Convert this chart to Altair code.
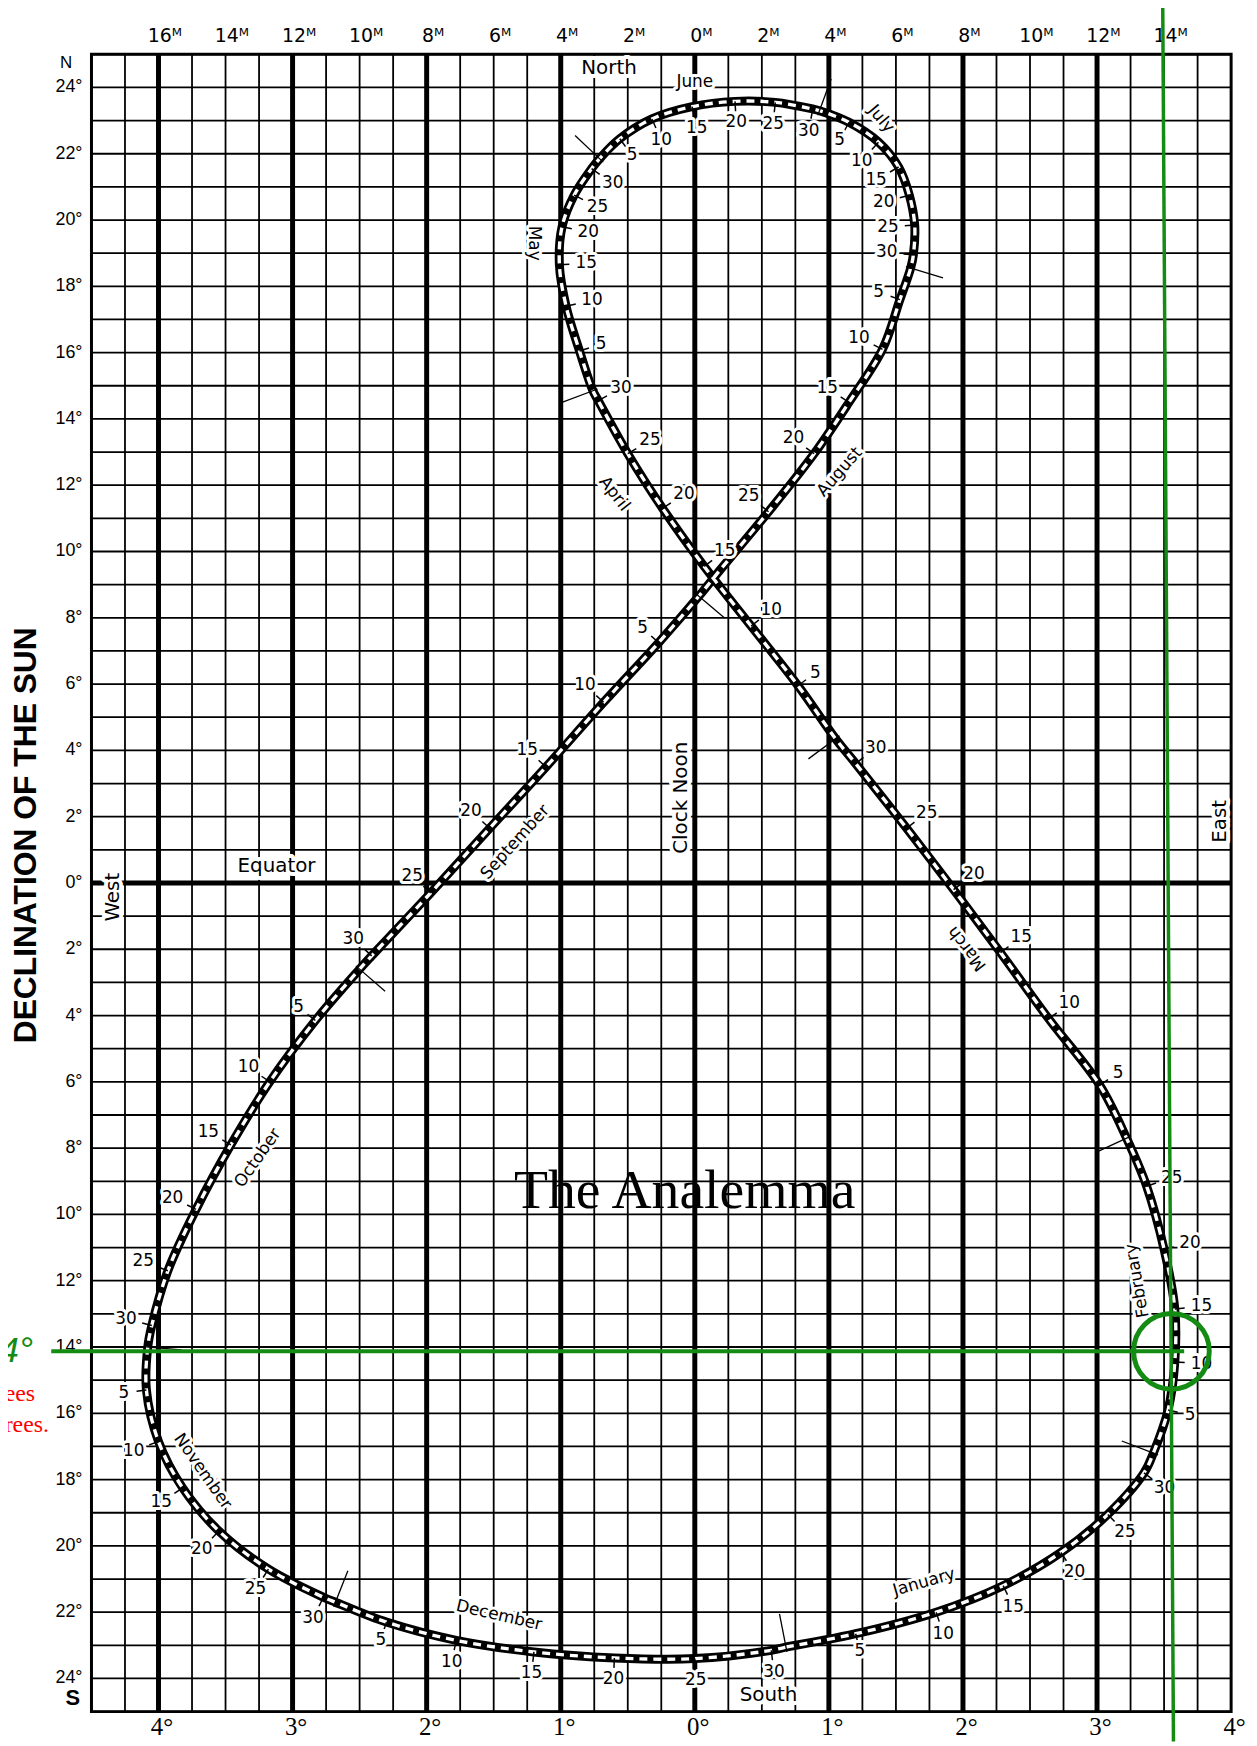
import altair as alt
import numpy as np
import pandas as pd

# ---------------- frame ----------------
W, H = 1147, 1668
XMIN, XMAX = -4.5, 4.0
YMIN, YMAX = -25.0, 25.0
KX = W / (XMAX - XMIN)
KY = H / (YMAX - YMIN)

# ---------------- analemma points ----------------
pt_month = [1, 1, 1, 1, 1, 1, 1,
            2, 2, 2, 2, 2, 2,
            3, 3, 3, 3, 3, 3, 3,
            4, 4, 4, 4, 4, 4, 4,
            5, 5, 5, 5, 5, 5, 5,
            6, 6, 6, 6, 6, 6, 6,
            7, 7, 7, 7, 7, 7, 7,
            8, 8, 8, 8, 8, 8, 8,
            9, 9, 9, 9, 9, 9, 9,
            10, 10, 10, 10, 10, 10, 10,
            11, 11, 11, 11, 11, 11, 11,
            12, 12, 12, 12, 12, 12, 12]
pt_day = [1, 5, 10, 15, 20, 25, 30,
          1, 5, 10, 15, 20, 25,
          1, 5, 10, 15, 20, 25, 30,
          1, 5, 10, 15, 20, 25, 30,
          1, 5, 10, 15, 20, 25, 30,
          1, 5, 10, 15, 20, 25, 30,
          1, 5, 10, 15, 20, 25, 30,
          1, 5, 10, 15, 20, 25, 30,
          1, 5, 10, 15, 20, 25, 30,
          1, 5, 10, 15, 20, 25, 30,
          1, 5, 10, 15, 20, 25, 30,
          1, 5, 10, 15, 20, 25, 30]
pt_x = [0.68, 1.20, 1.80, 2.30, 2.73, 3.08, 3.35,
        3.42, 3.53, 3.58, 3.58, 3.50, 3.37,
        3.22, 3.02, 2.64, 2.28, 1.93, 1.58, 1.20,
        1.05, 0.77, 0.42, 0.07, -0.24, -0.50, -0.72,
        -0.76, -0.86, -0.96, -1.01, -0.99, -0.90, -0.77,
        -0.71, -0.56, -0.32, -0.02, 0.30, 0.60, 0.88,
        0.93, 1.15, 1.37, 1.52, 1.60, 1.64, 1.63,
        1.61, 1.53, 1.40, 1.15, 0.89, 0.55, 0.18,
        0.03, -0.27, -0.68, -1.11, -1.53, -1.97, -2.41,
        -2.50, -2.83, -3.17, -3.46, -3.72, -3.93, -4.05,
        -4.08, -4.09, -4.00, -3.82, -3.55, -3.18, -2.77,
        -2.68, -2.30, -1.78, -1.20, -0.60, 0.00, 0.57]
pt_dec = [-23.05, -22.65, -22.00, -21.20, -20.20, -19.05, -17.80,
          -17.20, -15.90, -14.45, -12.85, -11.05, -9.15,
          -7.70, -6.10, -4.10, -2.10, -0.20, 1.65, 3.60,
          4.35, 5.95, 7.75, 9.55, 11.30, 12.95, 14.55,
          14.85, 16.05, 17.40, 18.65, 19.80, 20.75, 21.55,
          21.85, 22.45, 23.05, 23.42, 23.58, 23.55, 23.35,
          23.30, 22.95, 22.35, 21.60, 20.75, 19.85, 18.95,
          18.55, 17.60, 16.10, 14.50, 12.95, 11.20, 9.40,
          8.65, 7.25, 5.45, 3.50, 1.65, -0.30, -2.20,
          -2.60, -4.15, -6.00, -7.90, -9.85, -11.70, -13.35,
          -14.00, -15.30, -16.85, -18.25, -19.55, -20.70, -21.55,
          -21.70, -22.30, -22.85, -23.20, -23.38, -23.40, -23.15]

# ---------------- month names (position, angle) ----------------
mon_text = ["January", "February", "March", "April", "May", "June",
            "July", "August", "September", "October", "November", "December"]
mon_x = [1.71, 3.30, 2.03, -0.60, -1.20, 0.00, 1.39, 1.08, -1.34, -3.26, -3.67, -1.46]
mon_dec = [-21.1, -12.0, -1.98, 11.74, 19.3, 24.16, 23.05, 12.4, 1.23, -8.3, -17.75, -22.1]
mon_angle = [344, 260, 232, 52, 90, 0, 50, 311, 312, 305, 55, 13]

# ---------------- other annotations ----------------
ann_text = ["North", "South", "Equator", "West", "East", "Clock Noon"]
ann_x = [-0.64, 0.55, -3.12, -4.34, 3.92, -0.10]
ann_dec = [24.6, -24.5, 0.5, -0.43, 1.86, 2.57]
ann_angle = [0, 0, 0, 270, 270, 270]

# ---------------- grid and tick labels ----------------
grid_minor_x = list(np.arange(XMIN, XMAX + 1e-9, 0.25))
grid_major_x = [-4, -3, -2, -1, 0, 1, 2, 3]
grid_minor_y = list(range(-25, 26))
grid_major_y = [0]
bottom_ticks = [-4, -3, -2, -1, 0, 1, 2, 3, 4]
top_ticks = list(np.arange(-4.0, 3.51, 0.5))
left_ticks = list(range(-24, 25, 2))
y_title = "DECLINATION OF THE SUN"

# green overlay
green_vx = [3.49, 3.57]
green_vdec = [26.5, -25.9]
green_hx = [-4.80, 3.65]
green_hdec = -14.13
green_circle = (3.555, -14.13)

xs = alt.Scale(domain=[XMIN, XMAX], nice=False, zero=False)
ys = alt.Scale(domain=[YMIN, YMAX], nice=False, zero=False)
NOAX = None

# ---------------- derived geometry ----------------
px = np.array(pt_x) * KX
py = -np.array(pt_dec) * KY
tx = np.roll(px, -1) - np.roll(px, 1)
ty = np.roll(py, -1) - np.roll(py, 1)
L = np.hypot(tx, ty)
tx, ty = tx / L, ty / L
rnx, rny = -ty, tx  # right-hand normal in screen coordinates

pts = pd.DataFrame({"m": pt_month, "d": pt_day, "x": pt_x, "y": pt_dec,
                    "nx": rnx, "ny": rny})
curve = pd.concat([pts, pts.iloc[[0]]], ignore_index=True)
curve["i"] = np.arange(len(curve))

# date labels
lab = pts[(pts["d"] >= 5) & ~((pts["m"] == 8) & (pts["d"] == 30))].copy()
dist = 21 + 6 * lab["nx"].abs() - np.where(lab["d"] == 5, 4, 0)
lab["lx"] = lab["x"] + lab["nx"] * dist / KX
lab["ly"] = lab["y"] - lab["ny"] * dist / KY
lab["t"] = lab["d"].astype(str)
lab["tx2"] = lab["x"] + lab["nx"] * 10 / KX
lab["ty2"] = lab["y"] - lab["ny"] * 10 / KY
# month ticks
mt = pts[pts["d"] == 1].copy()
mt["x1"] = mt["x"] + mt["nx"] * 5 / KX
mt["y1"] = mt["y"] - mt["ny"] * 5 / KY
mt["x2"] = mt["x"] - mt["nx"] * 34 / KX
mt["y2"] = mt["y"] + mt["ny"] * 34 / KY

# ---------------- layers ----------------
bottom_axis = alt.Axis(values=bottom_ticks, labelExpr="abs(datum.value) + '°'",
                       labelFont="Liberation Serif", labelFontSize=25, labelPadding=3,
                       labelOffset=3, ticks=False, domain=False, grid=False,
                       labelFlush=False, labelOverlap=False, title=None, orient="bottom",
                       labelColor="black")
top_axis = alt.Axis(values=top_ticks, labelExpr="abs(round(datum.value*4)) + 'ᴹ'",
                    labelFont="DejaVu Sans", labelFontSize=19, labelPadding=9,
                    labelOffset=6, ticks=False, domain=False, grid=False,
                    labelFlush=False, labelOverlap=False, title=None, orient="top",
                    labelColor="black")

vminor = alt.Chart(pd.DataFrame({"x": grid_minor_x, "y0": YMIN, "y1": YMAX})).mark_rule(
    color="black", strokeWidth=1.8).encode(
    x=alt.X("x:Q", scale=xs, axis=bottom_axis),
    y=alt.Y("y0:Q", scale=ys, axis=NOAX), y2="y1:Q")

vmajor = alt.Chart(pd.DataFrame({"x": grid_major_x, "y0": YMIN, "y1": YMAX})).mark_rule(
    color="black", strokeWidth=5).encode(
    x=alt.X("x:Q", scale=xs, axis=top_axis),
    y=alt.Y("y0:Q", scale=ys, axis=NOAX), y2="y1:Q")

hminor = alt.Chart(pd.DataFrame({"y": grid_minor_y, "x0": XMIN, "x1": XMAX})).mark_rule(
    color="black", strokeWidth=1.8).encode(
    y=alt.Y("y:Q", scale=ys, axis=NOAX),
    x=alt.X("x0:Q", scale=xs, axis=NOAX), x2="x1:Q")

hmajor = alt.Chart(pd.DataFrame({"y": grid_major_y, "x0": XMIN, "x1": XMAX})).mark_rule(
    color="black", strokeWidth=5).encode(
    y=alt.Y("y:Q", scale=ys, axis=NOAX),
    x=alt.X("x0:Q", scale=xs, axis=NOAX), x2="x1:Q")


def texts(df, size, font="DejaVu Sans", halo=5, color="black", angle=False,
          align="center", baseline="middle", weight="normal", style="normal",
          with_halo=True, dx=0):
    enc = dict(x=alt.X("x:Q", scale=xs, axis=NOAX),
               y=alt.Y("y:Q", scale=ys, axis=NOAX),
               text=alt.Text("t:N"))
    if angle:
        enc["angle"] = alt.Angle("a:Q", scale=None)
    common = dict(fontSize=size, font=font, align=align, baseline=baseline,
                  fontWeight=weight, fontStyle=style, dx=dx)
    layers = []
    if with_halo:
        layers.append(alt.Chart(df).mark_text(color="white", stroke="white",
                                              strokeWidth=halo, strokeJoin="round",
                                              **common).encode(**enc))
    layers.append(alt.Chart(df).mark_text(color=color, **common).encode(**enc))
    return layers


ann_df = pd.DataFrame({"x": ann_x, "y": ann_dec, "t": ann_text, "a": ann_angle})
mon_df = pd.DataFrame({"x": mon_x, "y": mon_dec, "t": mon_text, "a": mon_angle})
lab_df = pd.DataFrame({"x": lab["lx"], "y": lab["ly"], "t": lab["t"]})
left_df = pd.DataFrame({"x": XMIN, "y": left_ticks,
                        "t": [f"{abs(v)}°" for v in left_ticks]})
ytitle_df = pd.DataFrame({"x": [XMIN - 66 / KX], "y": [YMAX - 786 / KY],
                          "t": [y_title], "a": [270]})

curve_black = alt.Chart(curve).mark_line(color="black", strokeWidth=9,
                                         interpolate="catmull-rom").encode(
    x=alt.X("x:Q", scale=xs, axis=NOAX), y=alt.Y("y:Q", scale=ys, axis=NOAX),
    order="i:Q")
curve_white = alt.Chart(curve).mark_line(color="white", strokeWidth=3.4, strokeDash=[8, 6],
                                         interpolate="catmull-rom").encode(
    x=alt.X("x:Q", scale=xs, axis=NOAX), y=alt.Y("y:Q", scale=ys, axis=NOAX),
    order="i:Q")

date_ticks = alt.Chart(lab).mark_rule(color="black", strokeWidth=1.5).encode(
    x=alt.X("x:Q", scale=xs, axis=NOAX), y=alt.Y("y:Q", scale=ys, axis=NOAX),
    x2="tx2:Q", y2="ty2:Q")
month_ticks = alt.Chart(mt).mark_rule(color="black", strokeWidth=1.3).encode(
    x=alt.X("x1:Q", scale=xs, axis=NOAX), y=alt.Y("y1:Q", scale=ys, axis=NOAX),
    x2="x2:Q", y2="y2:Q")

title_df = pd.DataFrame({"x": [-0.075], "y": [-9.8], "t": ["The Analemma"]})
ns_df = pd.DataFrame({"x": [-4.69], "y": [24.75], "t": ["N"]})
s_df = pd.DataFrame({"x": [-4.64], "y": [-24.6], "t": ["S"]})

GREEN = "#148c14"
gv = alt.Chart(pd.DataFrame({"x": [green_vx[0]], "x2": [green_vx[1]],
                             "y": [green_vdec[0]], "y2": [green_vdec[1]]})).mark_rule(
    color=GREEN, strokeWidth=3.5).encode(
    x=alt.X("x:Q", scale=xs, axis=NOAX), y=alt.Y("y:Q", scale=ys, axis=NOAX),
    x2="x2:Q", y2="y2:Q")
gh = alt.Chart(pd.DataFrame({"x": [green_hx[0]], "x2": [green_hx[1]],
                             "y": [green_hdec]})).mark_rule(
    color=GREEN, strokeWidth=4).encode(
    x=alt.X("x:Q", scale=xs, axis=NOAX), y=alt.Y("y:Q", scale=ys, axis=NOAX),
    x2="x2:Q")
gc = alt.Chart(pd.DataFrame({"x": [green_circle[0]], "y": [green_circle[1]]})).mark_point(
    shape="circle", filled=False, color=GREEN, strokeWidth=5, size=5800, opacity=1).encode(
    x=alt.X("x:Q", scale=xs, axis=NOAX), y=alt.Y("y:Q", scale=ys, axis=NOAX))
g4 = alt.Chart(pd.DataFrame({"x": [-4.935], "y": [-14.45], "t": ["4°"]})).mark_text(
    color=GREEN, fontSize=36, font="Liberation Sans", fontStyle="italic", align="right",
    baseline="alphabetic").encode(
    x=alt.X("x:Q", scale=xs, axis=NOAX), y=alt.Y("y:Q", scale=ys, axis=NOAX), text="t:N")
red_df = pd.DataFrame({"x": [-4.92, -4.817], "y": [-15.62, -16.55], "t": ["rees", "rees."]})
red = alt.Chart(red_df).mark_text(color="#ff0000", fontSize=24, font="Liberation Serif",
                                  align="right", baseline="alphabetic").encode(
    x=alt.X("x:Q", scale=xs, axis=NOAX), y=alt.Y("y:Q", scale=ys, axis=NOAX), text="t:N")

layers = [vminor, hminor, vmajor, hmajor]
layers += texts(ann_df, 20, angle=True, halo=8)
layers += [curve_black, curve_white, month_ticks, date_ticks]
layers += texts(lab_df, 17, halo=6)
layers += texts(mon_df, 17, angle=True, halo=6)
layers += texts(title_df, 56, font="Liberation Serif", baseline="alphabetic", with_halo=False)
layers += texts(ns_df, 17, font="Liberation Sans", with_halo=False)
layers += texts(s_df, 22, font="Liberation Sans", weight="bold", with_halo=False)
layers += texts(left_df, 18, font="Liberation Sans", align="right", with_halo=False, dx=-9)
layers += texts(ytitle_df, 32, font="Liberation Sans", weight="bold", angle=True,
                with_halo=False)
layers += [gv, gh, gc, g4, red]

chart = alt.layer(*layers).properties(
    width=W, height=H,
    autosize=alt.AutoSizeParams(type="none"),
    padding={"left": 84, "top": 41, "right": 18, "bottom": 28},
    background="white",
).configure_view(stroke="black", strokeWidth=3)

chart.save("out.html", embed_options={"renderer": "svg", "actions": False})
